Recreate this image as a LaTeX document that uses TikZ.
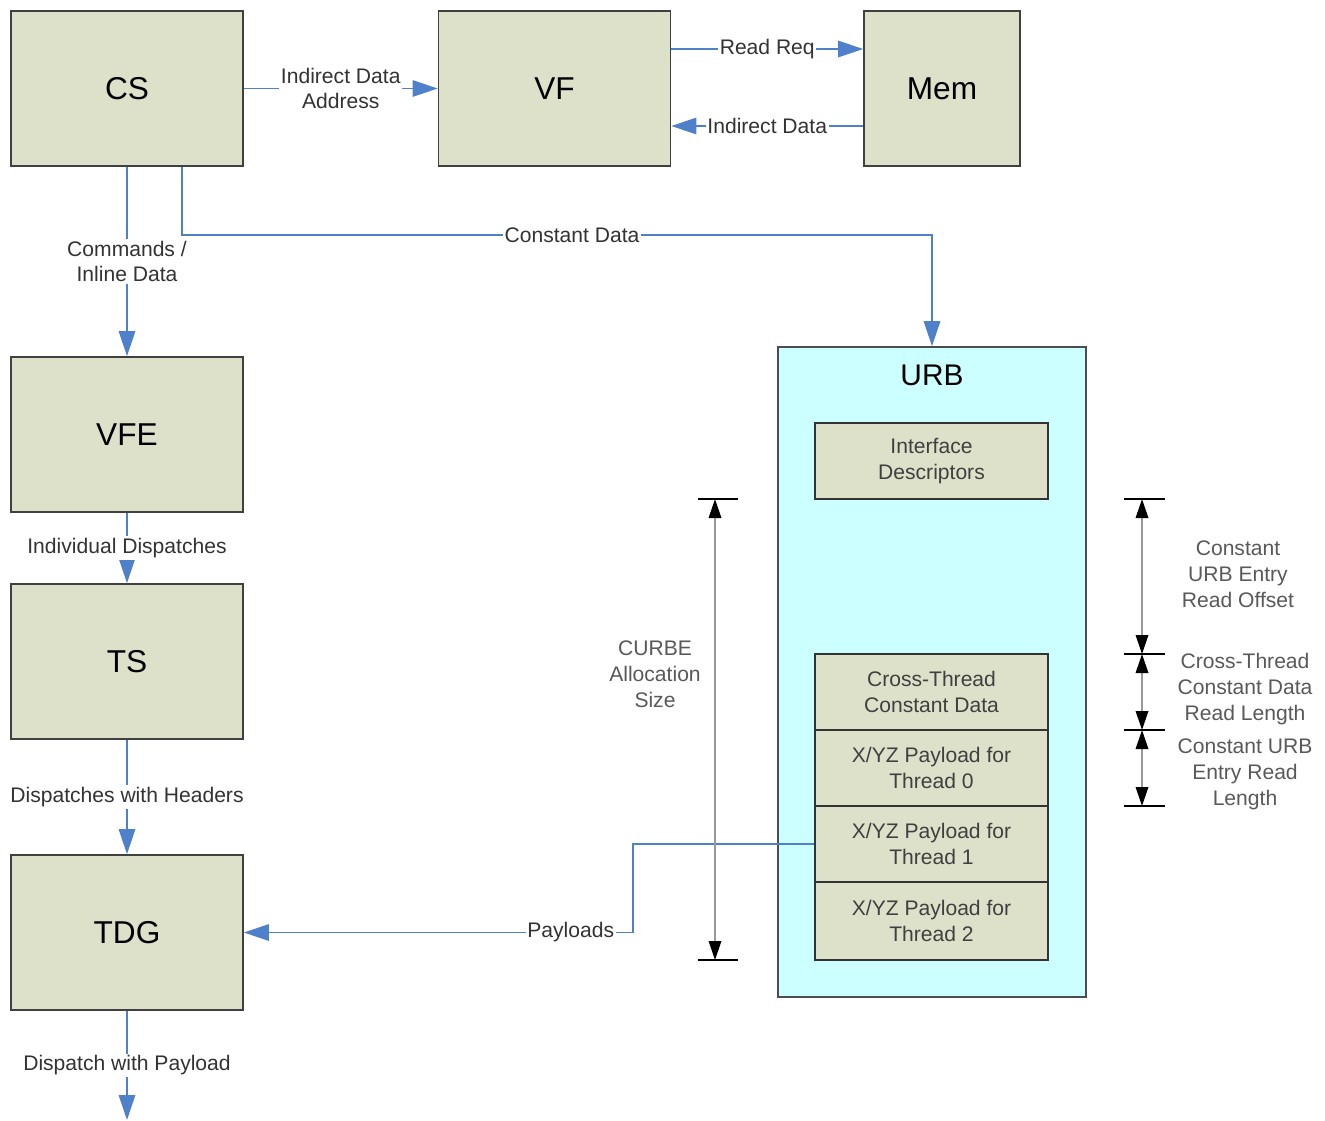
\documentclass[tikz,border=0pt]{standalone}
\usepackage{fontspec}
\setmainfont{Liberation Sans}
\usetikzlibrary{arrows.meta, positioning, calc}
\definecolor{unitc}{RGB}{221,225,201}
\definecolor{urbc}{RGB}{204,255,255}
\definecolor{linkc}{RGB}{79,129,203}

\begin{document}
\begin{tikzpicture}[x=0.02cm, y=-0.02cm,
    unit/.style={draw=black!75, line width=1pt, fill=unitc, minimum width=4.64cm,
      minimum height=3.1cm, font=\fontsize{18}{20}\selectfont},
    slot/.style={draw=black!80, line width=0.9pt, fill=unitc, minimum width=4.66cm,
      minimum height=1.52cm, align=center, text=black!75, font=\fontsize{12}{14.7}\selectfont},
    link/.style={draw=linkc, line width=0.8pt, -{Triangle[length=5mm, width=3.3mm]}},
    lbl/.style={fill=white, inner sep=1pt, align=center, text=black!80,
      font=\fontsize{12}{14.7}\selectfont},
    dim/.style={draw=black!40, line width=1pt,
      {Triangle[length=3.8mm, width=2.5mm, color=black]}-{Triangle[length=3.8mm, width=2.5mm, color=black]}},
    dimlbl/.style={align=center, text=black!65, font=\fontsize{12}{14.7}\selectfont},
    tick/.style={draw=black, line width=0.9pt}]
  \useasboundingbox (0,0) rectangle (1325,1120);

  \node[unit] (CS) at (127,88.5) {CS};
  \node[unit] (VF) at (554.5,88.5) {VF};
  \node[unit, minimum width=3.12cm] (Mem) at (942,88.5) {Mem};
  \node[unit] (VFE) at (127,434.5) {VFE};
  \node[unit] (TS) at (127,661.5) {TS};
  \node[unit] (TDG) at (127,932.5) {TDG};

  \node[draw=black!70, line width=1pt, fill=urbc, minimum width=6.16cm, minimum height=13cm] (URB) at (932,672) {};
  \node[font=\fontsize{17}{20}\selectfont] (URBt) at (932,375) {URB};
  \node[slot] (desc) at (931.5,461) {Interface\\Descriptors};
  \node[slot] (cross) at (931.5,692) {Cross-Thread\\Constant Data};
  \node[slot] (th0) at (931.5,768) {X/YZ Payload for\\Thread 0};
  \node[slot] (th1) at (931.5,844) {X/YZ Payload for\\Thread 1};
  \node[slot, minimum height=1.56cm] (th2) at (931.5,921) {X/YZ Payload for\\Thread 2};

  \coordinate (cbend) at (932,235);
  \coordinate (pbend) at (633,900);
  \coordinate (out) at (127,1120);

  \draw[link] (CS) -- node[lbl] {Indirect Data\\Address} (VF);
  \draw[link] ([yshift=0.79cm]VF.east) -- node[lbl] {Read Req} ([yshift=0.79cm]Mem.west);
  \draw[link] ([yshift=-0.75cm]Mem.west) -- node[lbl] {Indirect Data} ([yshift=-0.75cm]VF.east);
  \draw[link] (CS) -- node[lbl] {Commands /\\Inline Data} (VFE);
  \draw[link] ([xshift=1.1cm]CS.south) |- node[lbl, pos=0.76] {Constant Data} (cbend) -- (URB.north);
  \draw[link] (VFE) -- node[lbl] {Individual Dispatches} (TS);
  \draw[link] (TS) -- node[lbl] {Dispatches with Headers} (TDG);
  \draw[link] (TDG) -- node[lbl] {Dispatch with Payload} (out);
  \draw[link] (th1.west) -| (pbend) |- node[lbl, pos=0.58] {Payloads} (TDG.east);

  \draw[tick] (698,499) -- (738,499);
  \draw[tick] (698,960) -- (738,960);
  \draw[dim] (715,499) -- (715,960);
  \node[dimlbl] (curbe) at (655,674) {CURBE\\Allocation\\Size};

  \foreach \y in {499,654,730,806}
    \draw[tick] (1124,\y) -- (1165,\y);
  \draw[dim] (1142,499) -- (1142,654);
  \draw[dim] (1142,654) -- (1142,730);
  \draw[dim] (1142,730) -- (1142,806);
  \node[dimlbl] (offset) at (1238,574) {Constant\\URB Entry\\Read Offset};
  \node[dimlbl] (crosslen) at (1245,689) {Cross-Thread\\Constant Data\\Read Length};
  \node[dimlbl] (entrylen) at (1245,774) {Constant URB\\Entry Read\\Length};
\end{tikzpicture}
\end{document}
